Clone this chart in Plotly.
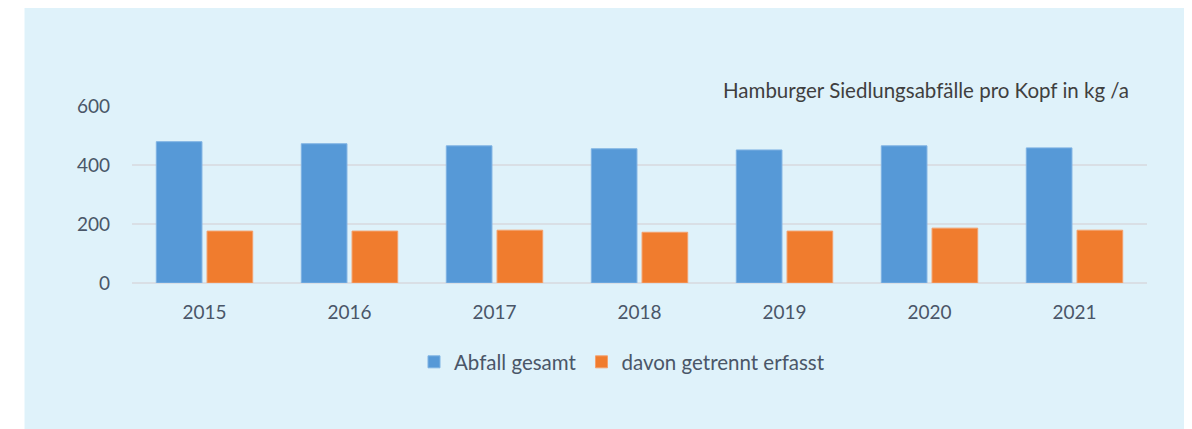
import plotly.graph_objects as go

years = ["2015", "2016", "2017", "2018", "2019", "2020", "2021"]
abfall_gesamt = [479, 472, 465, 455, 451, 465, 458]
getrennt_erfasst = [176, 176, 179, 172, 176, 186, 179]
y_ticks = [0, 200, 400, 600]

# page has an 8px body margin; figure is placed at (8, 8)
OFF = 8
W, H = 1192 - OFF, 429 - OFF
ML, MR, MT, MB = 132 - OFF, 45, 106 - OFF, 146
PW, PH = W - ML - MR, H - MT - MB

def px_x(px):
    return (px - OFF - ML) / PW

def px_y(py):
    return (H - MB - (py - OFF)) / PH

TEXT = "#4a5668"
FONT = "Lato"
BG = "#dff2fa"
GRID = "#d9dfe5"

fig = go.Figure()
fig.add_trace(go.Bar(x=years, y=abfall_gesamt, name="Abfall gesamt",
                     marker=dict(color="#5699d7", line=dict(color="#7fb3e3", width=1))))
fig.add_trace(go.Bar(x=years, y=getrennt_erfasst, name="davon getrennt erfasst",
                     marker=dict(color="#f07c2e", line=dict(color="#f4a06c", width=1))))

fig.update_layout(
    width=W, height=H,
    margin=dict(l=ML, r=MR, t=MT, b=MB, autoexpand=False),
    paper_bgcolor=BG, plot_bgcolor="rgba(0,0,0,0)",
    barmode="group", bargap=0.30, bargroupgap=0.10,
    font=dict(family=FONT, size=19, color=TEXT),
    showlegend=True,
    legend=dict(orientation="h", x=px_x(622), y=px_y(362), xanchor="center", yanchor="middle",
                bgcolor="rgba(0,0,0,0)", font=dict(size=20.5, color=TEXT),
                itemwidth=30, tracegroupgap=0, traceorder="normal"),
    xaxis=dict(showgrid=False, showline=False, ticks="", tickfont=dict(size=19, color=TEXT),
               ticklabelstandoff=16),
    yaxis=dict(range=[0, 600], tickvals=y_ticks, showgrid=True, gridcolor=GRID, gridwidth=2,
               zeroline=True, zerolinecolor=GRID, zerolinewidth=2, showline=False, ticks="",
               tickfont=dict(size=19, color=TEXT), ticklabelstandoff=21),
    annotations=[dict(text="Hamburger Siedlungsabfälle pro Kopf in kg /a", xref="paper", yref="paper",
                      x=px_x(1131), y=px_y(90), xanchor="right", yanchor="middle", showarrow=False,
                      font=dict(size=20.5, color="#3f3f3f", family=FONT))],
    shapes=[
        dict(type="rect", xref="paper", yref="paper", x0=px_x(0), x1=px_x(24.5), y0=px_y(H + 20), y1=px_y(0),
             fillcolor="white", line=dict(width=0), layer="below"),
    ],
)

fig.write_html("out.html")
